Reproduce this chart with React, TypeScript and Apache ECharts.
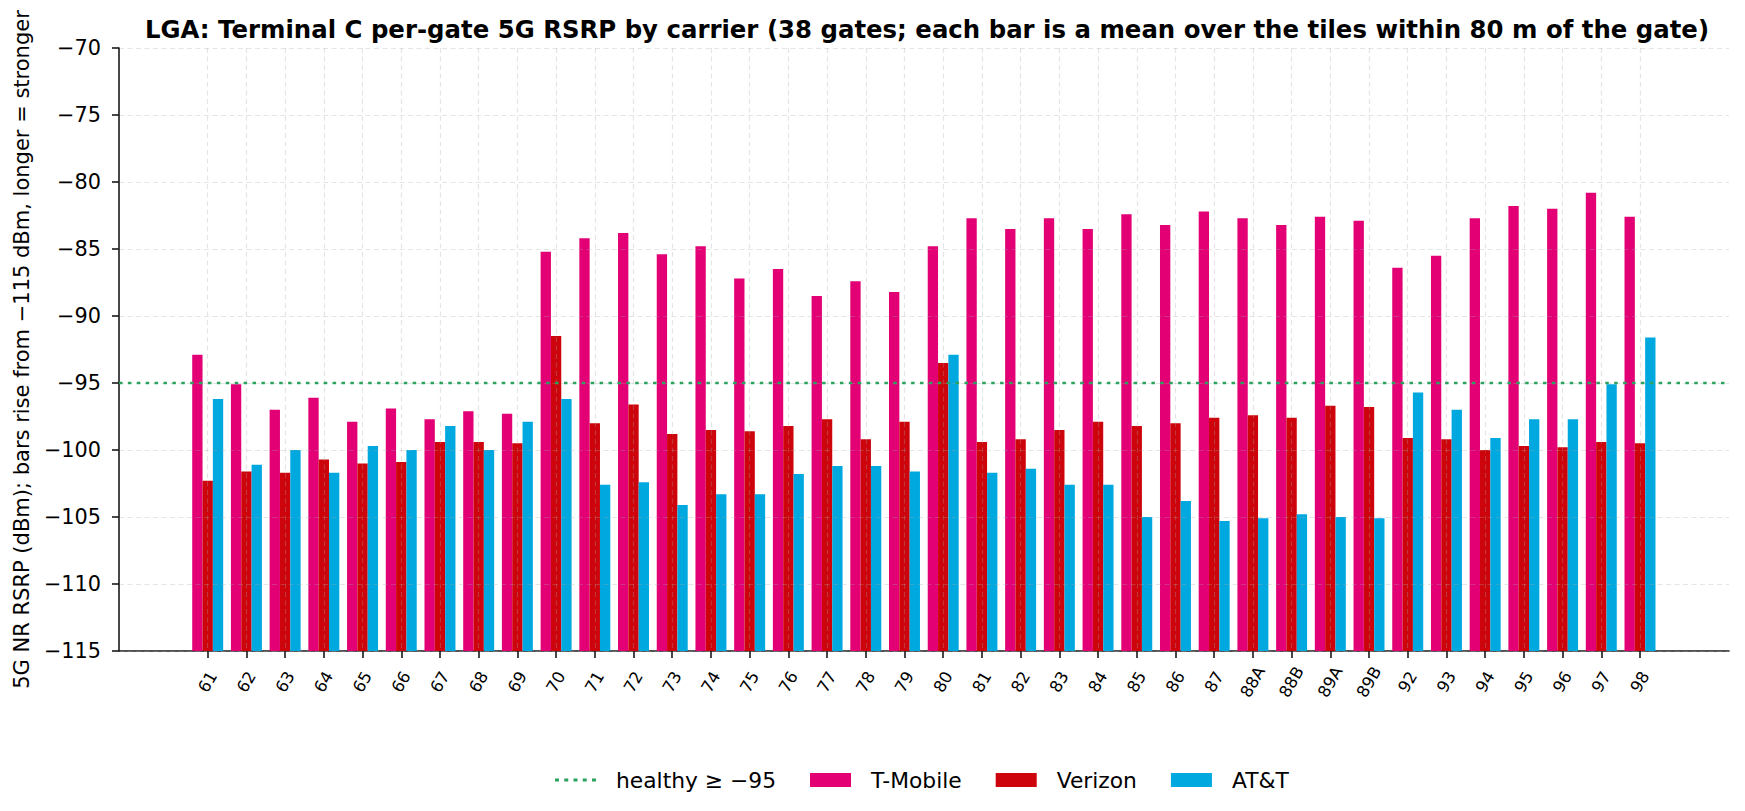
import React, { useEffect, useRef } from "react";
import * as echarts from "echarts";

const gates = ["61","62","63","64","65","66","67","68","69","70","71","72","73","74","75","76","77","78","79","80","81","82","83","84","85","86","87","88A","88B","89A","89B","92","93","94","95","96","97","98"];
const tmobile = [-92.9,-95.1,-97.0,-96.1,-97.9,-96.9,-97.7,-97.1,-97.3,-85.2,-84.2,-83.8,-85.4,-84.8,-87.2,-86.5,-88.5,-87.4,-88.2,-84.8,-82.7,-83.5,-82.7,-83.5,-82.4,-83.2,-82.2,-82.7,-83.2,-82.6,-82.9,-86.4,-85.5,-82.7,-81.8,-82.0,-80.8,-82.6];
const verizon = [-102.3,-101.6,-101.7,-100.7,-101.0,-100.9,-99.4,-99.4,-99.5,-91.5,-98.0,-96.6,-98.8,-98.5,-98.6,-98.2,-97.7,-99.2,-97.9,-93.5,-99.4,-99.2,-98.5,-97.9,-98.2,-98.0,-97.6,-97.4,-97.6,-96.7,-96.8,-99.1,-99.2,-100.0,-99.7,-99.8,-99.4,-99.5];
const att = [-96.2,-101.1,-100.0,-101.7,-99.7,-100.0,-98.2,-100.0,-97.9,-96.2,-102.6,-102.4,-104.1,-103.3,-103.3,-101.8,-101.2,-101.2,-101.6,-92.9,-101.7,-101.4,-102.6,-102.6,-105.0,-103.8,-105.3,-105.1,-104.8,-105.0,-105.1,-95.7,-97.0,-99.1,-97.7,-97.7,-95.1,-91.6];
const healthyThreshold = -95;
const yMin = -115;
const yMax = -70;

const FONT = "DejaVu Sans";
const fmtMinus = (v: number) => (v < 0 ? "\u2212" + Math.abs(v) : String(v));
const dottedIcon =
  "path://M0,0M41,14M0,5.6h4v2.8h-4zM9.25,5.6h4v2.8h-4zM18.5,5.6h4v2.8h-4zM27.75,5.6h4v2.8h-4zM37,5.6h4v2.8h-4z";

export default function App() {
  const ref = useRef<HTMLDivElement>(null);
  useEffect(() => {
    if (!ref.current) return;
    const chart = echarts.init(ref.current, undefined, { renderer: "svg" });
    const gridColor = "rgba(170,170,170,0.3)";
    const axisColor = "#1a1a1a";
    const top = 48;
    const bottom = 160;
    const rise = (arr: number[]) => arr.map((v) => +(v - yMin).toFixed(2));
    chart.setOption({
      animation: false,
      backgroundColor: "#ffffff",
      textStyle: { fontFamily: FONT },
      title: {
        text: "LGA: Terminal C per-gate 5G RSRP by carrier (38 gates; each bar is a mean over the tiles within 80 m of the gate)",
        left: 922,
        textAlign: "center",
        top: 12,
        textStyle: { fontFamily: FONT, fontWeight: "bold", fontSize: 24.4, color: "#000" },
      },
      legend: {
        left: 550,
        top: 764,
        itemWidth: 41,
        itemHeight: 14,
        itemGap: 34,
        textStyle: { fontFamily: FONT, fontSize: 21.8, color: "#000", padding: [0, 0, 0, 15] },
        data: [
          { name: "healthy \u2265 \u221295", icon: dottedIcon },
          { name: "T-Mobile", icon: "rect" },
          { name: "Verizon", icon: "rect" },
          { name: "AT&T", icon: "rect" },
        ],
      },
      grid: [
        { left: 119, right: 16, top, bottom },
        { left: 207.7, right: 105, top, bottom },
      ],
      xAxis: [
        {
          type: "value",
          gridIndex: 0,
          min: 0,
          max: 1,
          axisLine: { show: true, lineStyle: { color: axisColor, width: 1.6 } },
          axisTick: { show: false },
          axisLabel: { show: false },
          splitLine: { show: false },
        },
        {
          type: "category",
          gridIndex: 1,
          data: gates,
          boundaryGap: false,
          z: 3,
          axisLine: { show: false },
          axisTick: { show: true, length: 7, lineStyle: { color: axisColor, width: 1.6 } },
          axisLabel: {
            interval: 0,
            rotate: 60,
            align: "center",
            verticalAlign: "middle",
            margin: 31,
            fontSize: 16.5,
            color: "#000",
            fontFamily: FONT,
          },
          splitLine: { show: true, interval: 0, lineStyle: { color: gridColor, width: 1.2, type: [5, 3.5] } },
        },
      ],
      yAxis: [
        {
          type: "value",
          gridIndex: 0,
          min: yMin,
          max: yMax,
          interval: 5,
          z: 3,
          name: "5G NR RSRP (dBm); bars rise from \u2212115 dBm, longer = stronger",
          nameLocation: "middle",
          nameGap: 80,
          nameTextStyle: { fontFamily: FONT, fontSize: 21, color: "#000" },
          axisLine: { show: true, lineStyle: { color: axisColor, width: 1.6 } },
          axisTick: { show: true, length: 7, lineStyle: { color: axisColor, width: 1.6 } },
          axisLabel: { fontSize: 20.8, color: "#000", margin: 18, fontFamily: FONT, formatter: fmtMinus },
          splitLine: { show: true, lineStyle: { color: gridColor, width: 1.2, type: [5, 3.5] } },
        },
        {
          type: "value",
          gridIndex: 1,
          min: 0,
          max: yMax - yMin,
          show: false,
          splitLine: { show: false },
        },
      ],
      series: [
        {
          name: "healthy \u2265 \u221295",
          type: "line",
          xAxisIndex: 0,
          yAxisIndex: 0,
          data: [[0, healthyThreshold], [1, healthyThreshold]],
          symbol: "none",
          z: 6,
          lineStyle: { color: "#2ca25f", width: 2.7, type: [3.5, 5.4] },
          itemStyle: { color: "#2ca25f" },
        },
        {
          name: "T-Mobile",
          type: "bar",
          xAxisIndex: 1,
          yAxisIndex: 1,
          data: rise(tmobile),
          barGap: "0%",
          barCategoryGap: "20%",
          clip: false,
          itemStyle: { color: "#E20074" },
        },
        {
          name: "Verizon",
          type: "bar",
          xAxisIndex: 1,
          yAxisIndex: 1,
          data: rise(verizon),
          barGap: "0%",
          barCategoryGap: "20%",
          clip: false,
          itemStyle: { color: "#CD040B" },
        },
        {
          name: "AT&T",
          type: "bar",
          xAxisIndex: 1,
          yAxisIndex: 1,
          data: rise(att),
          barGap: "0%",
          barCategoryGap: "20%",
          clip: false,
          itemStyle: { color: "#00A8E0" },
        },
      ],
    });
    return () => chart.dispose();
  }, []);
  return (
    <div
      ref={ref}
      style={{ position: "fixed", left: 0, top: 0, width: 1745, height: 811, background: "#fff" }}
    />
  );
}
